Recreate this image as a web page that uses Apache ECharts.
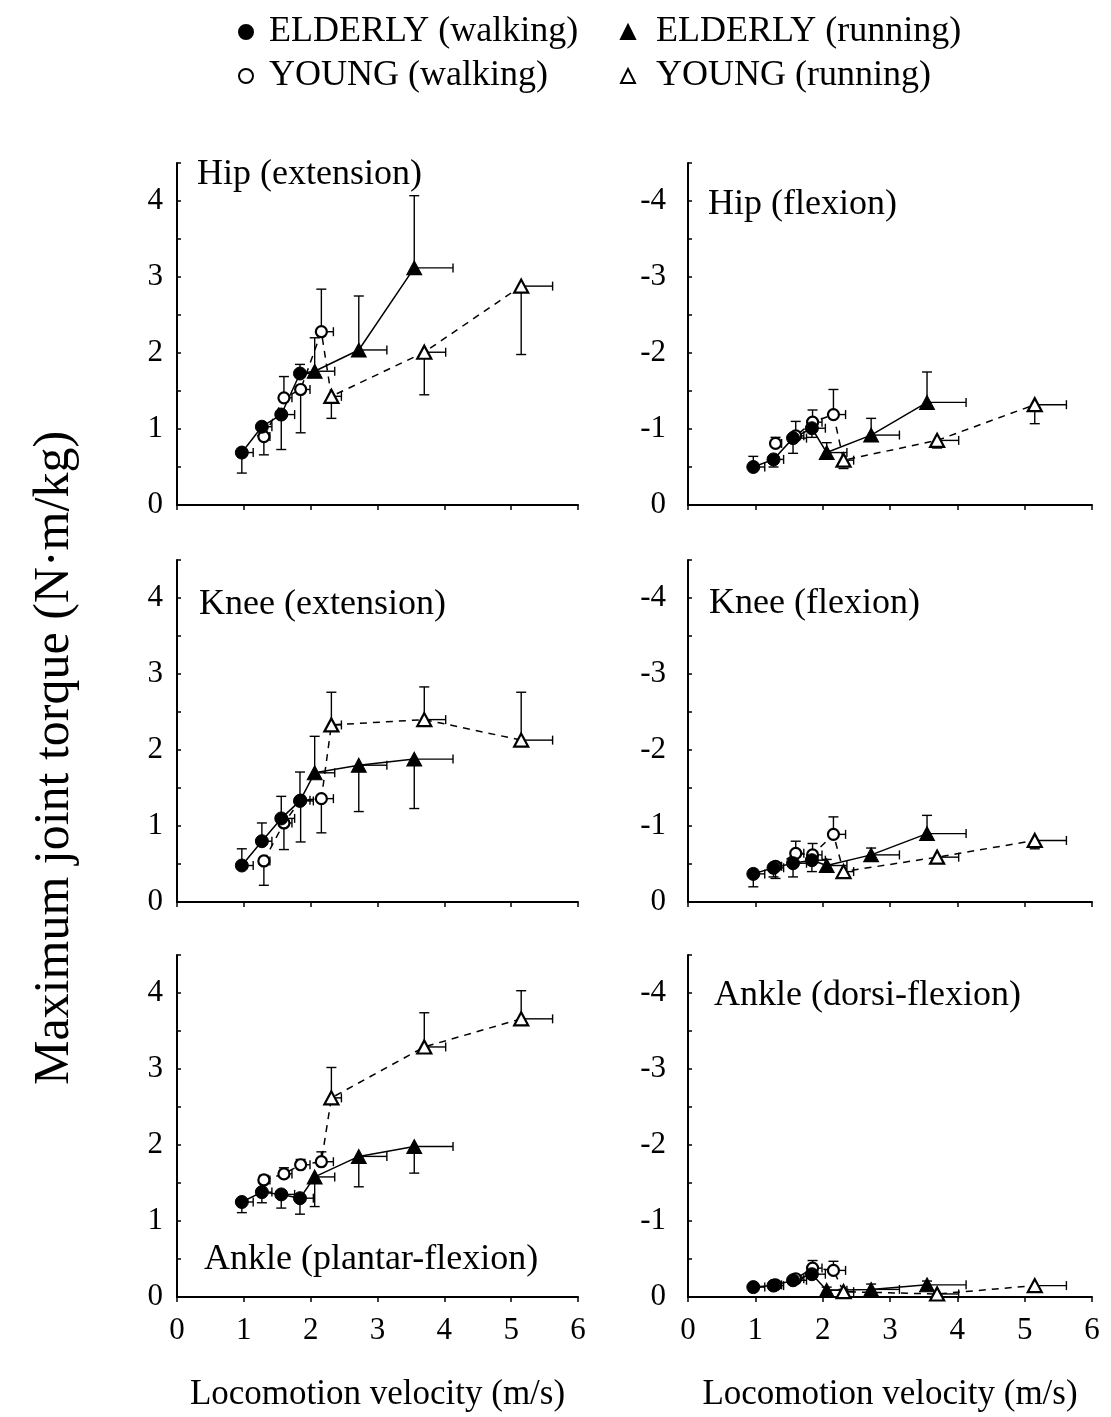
<!DOCTYPE html>
<html>
<head>
<meta charset="utf-8">
<title>Maximum joint torque vs locomotion velocity</title>
<script src="https://cdn.jsdelivr.net/npm/echarts@6/dist/echarts.min.js"></script>
<style>
  html, body { margin: 0; padding: 0; background: #fff; }
  #chart { width: 1111px; height: 1417px; }
</style>
</head>
<body>
<div id="chart"></div>
<script>
// ---- groups (legend order) ----
const GROUPS = ['ELDERLY (walking)', 'YOUNG (walking)', 'ELDERLY (running)', 'YOUNG (running)'];

// ---- locomotion velocity (m/s): mean and SD per group ----
const velElderlyWalk   = [0.97, 1.27, 1.56, 1.84];
const velSdElderlyWalk = [0.17, 0.15, 0.20, 0.20];
const velYoungWalk     = [1.30, 1.60, 1.85, 2.16];
const velSdYoungWalk   = [0.09, 0.12, 0.14, 0.18];
const velElderlyRun    = [2.06, 2.72, 3.55];
const velSdElderlyRun  = [0.30, 0.42, 0.58];
const velYoungRun      = [2.31, 3.70, 5.15];
const velSdYoungRun    = [0.15, 0.32, 0.47];

// ---- maximum joint torque (N·m/kg), order: [elderly walk, young walk, elderly run, young run] ----
// SD is signed: the error bar is drawn from the mean to mean + SD.
const hipExtTorque = [[0.69, 1.03, 1.19, 1.73], [0.90, 1.41, 1.52, 2.28], [1.76, 2.04, 3.12], [1.43, 2.01, 2.88]];
const hipExtSd     = [[-0.27, -0.12, -0.46, 0.12], [-0.24, 0.28, -0.57, 0.56], [0.44, 0.71, 0.95], [-0.29, -0.56, -0.90]];

const hipFlexTorque = [[-0.50, -0.60, -0.88, -1.01], [-0.81, -0.91, -1.09, -1.19], [-0.69, -0.92, -1.35], [-0.59, -0.85, -1.32]];
const hipFlexSd     = [[-0.14, 0.10, 0.20, 0.12], [-0.08, -0.19, -0.16, -0.33], [-0.13, -0.22, -0.40], [0.11, 0.10, 0.25]];

const kneeExtTorque = [[0.48, 0.80, 1.10, 1.33], [0.54, 1.04, 1.34, 1.36], [1.70, 1.80, 1.88], [2.33, 2.40, 2.13]];
const kneeExtSd     = [[0.22, 0.24, 0.29, 0.38], [-0.32, -0.35, -0.55, -0.45], [0.48, -0.61, -0.65], [0.43, 0.43, 0.63]];

const kneeFlexTorque = [[-0.37, -0.45, -0.51, -0.55], [-0.47, -0.64, -0.62, -0.89], [-0.48, -0.62, -0.90], [-0.40, -0.59, -0.81]];
const kneeFlexSd     = [[0.17, 0.12, 0.18, 0.15], [0.16, -0.16, -0.15, -0.23], [-0.08, -0.09, -0.24], [0.08, 0.08, 0.11]];

const anklePlantarTorque = [[1.25, 1.38, 1.35, 1.30], [1.54, 1.62, 1.74, 1.78], [1.58, 1.85, 1.98], [2.62, 3.29, 3.66]];
const anklePlantarSd     = [[-0.14, -0.14, -0.18, -0.21], [0.06, 0.08, 0.07, 0.13], [-0.39, -0.40, -0.35], [0.40, 0.45, 0.37]];

const ankleDorsiTorque = [[-0.13, -0.15, -0.22, -0.30], [-0.16, -0.24, -0.38, -0.35], [-0.09, -0.10, -0.16], [-0.07, -0.04, -0.15]];
const ankleDorsiSd     = [[0.05, 0.05, 0.05, 0.05], [0.04, -0.04, -0.10, -0.12], [-0.04, -0.07, -0.05], [-0.03, 0.03, 0.03]];

// ---- axis ticks ----
const xTicks = [0, 1, 2, 3, 4, 5, 6];
const yTicksExt = [0, 1, 2, 3, 4];
const yTicksFlex = [-4, -3, -2, -1, 0];

const groupVel = [velElderlyWalk, velYoungWalk, velElderlyRun, velYoungRun];
const groupVelSd = [velSdElderlyWalk, velSdYoungWalk, velSdElderlyRun, velSdYoungRun];

// panel layout: side 0 = extensor (left column), 1 = flexor (right column)
const panels = [
  { title: 'Hip (extension)',         torque: hipExtTorque,       sd: hipExtSd,       side: 0, row: 0, tx: 197, ty: 177 },
  { title: 'Hip (flexion)',           torque: hipFlexTorque,      sd: hipFlexSd,      side: 1, row: 0, tx: 708, ty: 207 },
  { title: 'Knee (extension)',        torque: kneeExtTorque,      sd: kneeExtSd,      side: 0, row: 1, tx: 199, ty: 607 },
  { title: 'Knee (flexion)',          torque: kneeFlexTorque,     sd: kneeFlexSd,     side: 1, row: 1, tx: 709, ty: 606 },
  { title: 'Ankle (plantar-flexion)', torque: anklePlantarTorque, sd: anklePlantarSd, side: 0, row: 2, tx: 204, ty: 1262 },
  { title: 'Ankle (dorsi-flexion)',   torque: ankleDorsiTorque,   sd: ankleDorsiSd,   side: 1, row: 2, tx: 714, ty: 998 }
];

const FONT = 'Liberation Serif';
const gridLeft = [177, 688];
const gridTop = [163, 560, 955];
const gridW = [401, 404], gridH = 342;

const markerStyles = [
  { symbol: 'circle',   symbolSize: 13, itemStyle: { color: '#000', borderColor: '#000', borderWidth: 1, opacity: 1 } },
  { symbol: 'circle',   symbolSize: 11, itemStyle: { color: '#fff', borderColor: '#000', borderWidth: 2.2, opacity: 1 } },
  { symbol: 'triangle', symbolSize: [15, 14], itemStyle: { color: '#000', borderColor: '#000', borderWidth: 1, opacity: 1 } },
  { symbol: 'triangle', symbolSize: [14, 13], itemStyle: { color: '#fff', borderColor: '#000', borderWidth: 2.2, opacity: 1 } }
];

function errorBarItem(params, api) {
  const x = api.value(0), y = api.value(1), sx = api.value(2), sy = api.value(3);
  const p = api.coord([x, y]);
  const pv = api.coord([x, y + sy]);
  const ph = api.coord([x + sx, y]);
  const st = { stroke: '#000', lineWidth: 1.4 };
  const seg = (x1, y1, x2, y2) => ({ type: 'line', shape: { x1, y1, x2, y2 }, style: st });
  return {
    type: 'group',
    children: [
      seg(p[0], p[1], pv[0], pv[1]),
      seg(pv[0] - 5, pv[1], pv[0] + 5, pv[1]),
      seg(p[0], p[1], ph[0], ph[1]),
      seg(ph[0], ph[1] - 4.5, ph[0], ph[1] + 4.5)
    ]
  };
}

const grids = [], xAxes = [], yAxes = [], series = [], graphics = [];

panels.forEach((pn, i) => {
  const bottom = pn.row === 2;
  const flex = pn.side === 1;
  grids.push({ left: gridLeft[pn.side], top: gridTop[pn.row], width: gridW[pn.side], height: gridH });
  xAxes.push({
    gridIndex: i, type: 'value', min: xTicks[0], max: xTicks[xTicks.length - 1], interval: 1,
    axisLine: { lineStyle: { color: '#000', width: 2 } },
    axisTick: { inside: false, length: 5, lineStyle: { color: '#000', width: 1.5 } },
    axisLabel: { show: bottom, color: '#000', fontFamily: FONT, fontSize: 31, margin: 18 },
    splitLine: { show: false },
    name: bottom ? 'Locomotion velocity (m/s)' : '',
    nameLocation: 'middle', nameGap: 80,
    nameTextStyle: { color: '#000', fontFamily: FONT, fontSize: 35 }
  });
  const ticks = flex ? yTicksFlex : yTicksExt;
  yAxes.push({
    gridIndex: i, type: 'value', inverse: flex,
    min: flex ? -4.5 : 0, max: flex ? 0 : 4.5, interval: 0.5,
    axisLine: { lineStyle: { color: '#000', width: 2 } },
    axisTick: { inside: true, length: 4, lineStyle: { color: '#000', width: 1.5 } },
    axisLabel: {
      color: '#000', fontFamily: FONT, fontSize: 31, margin: flex ? 22 : 14,
      formatter: v => (ticks.indexOf(v) >= 0 ? String(v) : '')
    },
    splitLine: { show: false }
  });

  // error bars
  const errRows = [];
  pn.torque.forEach((arr, g) => {
    arr.forEach((t, k) => errRows.push([groupVel[g][k], t, groupVelSd[g][k], pn.sd[g][k]]));
  });
  series.push({
    type: 'custom', xAxisIndex: i, yAxisIndex: i, renderItem: errorBarItem,
    data: errRows, z: 1, silent: true, clip: false
  });

  // connecting lines: elderly (solid) and young (dashed), walking then running
  const pts = g => pn.torque[g].map((t, k) => [groupVel[g][k], t]);
  series.push({
    type: 'line', xAxisIndex: i, yAxisIndex: i, data: pts(0).concat(pts(2)),
    showSymbol: false, symbol: 'none', z: 2, silent: true,
    lineStyle: { color: '#000', width: 1.5, type: 'solid' }
  });
  series.push({
    type: 'line', xAxisIndex: i, yAxisIndex: i, data: pts(1).concat(pts(3)),
    showSymbol: false, symbol: 'none', z: 2, silent: true,
    lineStyle: { color: '#000', width: 1.5, type: [7, 6] }
  });

  // markers
  [1, 3, 0, 2].forEach(g => {
    series.push(Object.assign({
      type: 'scatter', name: GROUPS[g], xAxisIndex: i, yAxisIndex: i,
      data: pts(g), z: 3, silent: true
    }, markerStyles[g]));
  });

  graphics.push({
    type: 'text', left: pn.tx, top: pn.ty - 20,
    style: { text: pn.title, fill: '#000', font: '36px "' + FONT + '"' }
  });
});

graphics.push({
  type: 'text', x: 55, y: 758, rotation: Math.PI / 2,
  style: {
    text: 'Maximum joint torque (N\u00b7m/kg)', fill: '#000',
    font: '50px "' + FONT + '"', textAlign: 'center', textVerticalAlign: 'middle'
  }
});

const legendBase = {
  top: 9, orient: 'vertical', itemGap: 8, itemWidth: 14, itemHeight: 14, selectedMode: false
};
const option = {
  animation: false,
  backgroundColor: '#fff',
  grid: grids,
  xAxis: xAxes,
  yAxis: yAxes,
  legend: [
    Object.assign({ left: 233, data: [GROUPS[0], GROUPS[1]],
      textStyle: { color: '#000', fontFamily: FONT, fontSize: 36, padding: [0, 0, 0, 11] } }, legendBase),
    Object.assign({ left: 615, data: [GROUPS[2], GROUPS[3]],
      textStyle: { color: '#000', fontFamily: FONT, fontSize: 36, padding: [0, 0, 0, 16] } }, legendBase)
  ],
  graphic: graphics,
  series: series
};

const chart = echarts.init(document.getElementById('chart'), null, { renderer: 'canvas', devicePixelRatio: 1 });
chart.setOption(option);
</script>
</body>
</html>
